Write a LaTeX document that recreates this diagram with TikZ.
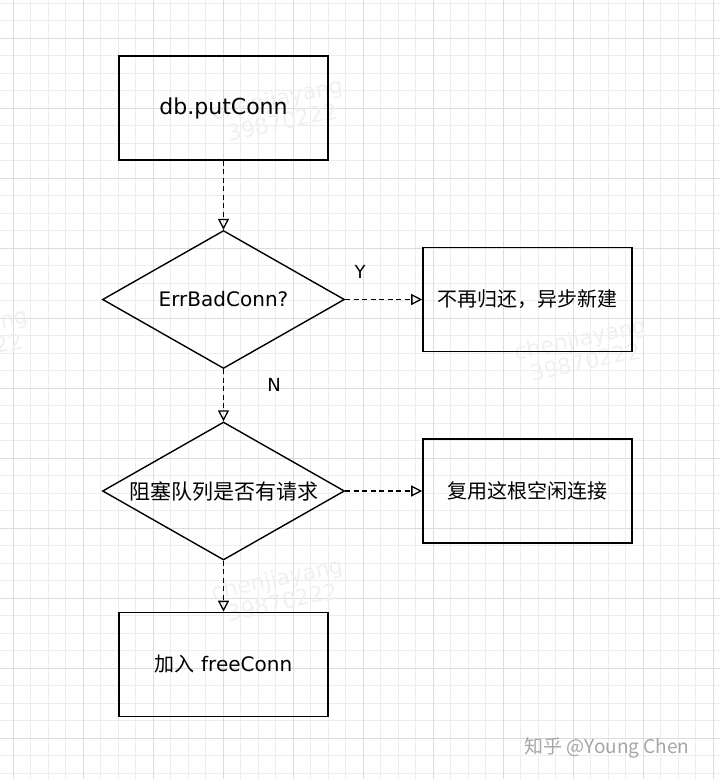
\documentclass[tikz,border=0pt]{standalone}
\usepackage{fontspec}
\setmainfont{DejaVu Sans}
\newfontfamily\cjk{Noto Sans CJK SC}
\usetikzlibrary{arrows.meta,shapes.geometric}
\definecolor{gridminor}{HTML}{EDEDED}
\definecolor{gridmajor}{HTML}{DCDCDC}
\definecolor{wmgray}{HTML}{F0F0F0}
\definecolor{zhgray}{HTML}{A6A6A6}

\begin{document}
\begin{tikzpicture}[x=1pt, y=-1pt,
	proc/.style={draw, line width=1.6pt, fill=none, minimum width=209pt, minimum height=104pt, inner sep=0pt, font=\fontsize{20}{24}\selectfont},
	test/.style={diamond, draw, line width=1.4pt, aspect=1.75, inner sep=0pt, minimum width=242pt, minimum height=138pt, font=\fontsize{20}{24}\selectfont},
	conn/.style={line width=1.3pt, dash pattern=on 5pt off 3.5pt, -{Triangle[open, length=11pt, width=11pt]}},
	branch/.style={font=\fontsize{18}{20}\selectfont},
	wmark/.style={text=wmgray, rotate=12, align=center, font=\fontsize{22}{24}\selectfont}]
	  \useasboundingbox (0,0) rectangle (720,779);
	  \clip (0,0) rectangle (720,779);
	  \fill[white] (0,0) rectangle (720,779);
	  \foreach \k in {0,...,42}
	    \draw[gridminor, line width=0.8pt] (-4.5+17.5*\k,0) -- (-4.5+17.5*\k,779);
	  \foreach \k in {0,...,44}
	    \draw[gridminor, line width=0.8pt] (0,3+17.5*\k) -- (720,3+17.5*\k);
	  \foreach \k in {0,...,10}
	    \draw[gridmajor, line width=0.9pt] (13+70*\k,0) -- (13+70*\k,779);
	  \foreach \k in {0,...,10}
	    \draw[gridmajor, line width=0.9pt] (0,38+70*\k) -- (720,38+70*\k);
	  \node[wmark] (wm1) at (280,110) {chenjiayang\\39870222};
	  \node[wmark] (wm2) at (583,350) {chenjiayang\\39870222};
	  \node[wmark] (wm3) at (280,590) {chenjiayang\\39870222};
	  \node[wmark] (wm4) at (-35,340) {chenjiayang\\39870222};
	  \node[proc, font=\fontsize{22}{26}\selectfont] (put) at (223.5,108) {db.putConn};
	  \node[test] (bad) at (223.5,299.5) {ErrBadConn?};
	  \node[proc, font=\fontsize{20}{24}\selectfont\cjk] (renew) at (527.5,299.5) {不再归还，异步新建};
	  \node[test, font=\fontsize{21}{24}\selectfont\cjk] (wait) at (223.5,491) {阻塞队列是否有请求};
	  \node[proc, font=\fontsize{20}{24}\selectfont\cjk] (reuse) at (527.5,491) {复用这根空闲连接};
	  \node[proc] (free) at (223.5,664.5) {{\cjk 加入} freeConn};
	  \node[branch] (yes) at (360,272) {Y};
	  \node[branch] (no) at (274,385) {N};
	  \draw[conn] (put) -- (bad);
	  \draw[conn] (bad) -- (renew);
	  \draw[conn] (bad) -- (wait);
	  \draw[conn] (wait) -- (reuse);
	  \draw[conn] (wait) -- (free);
	  \node[text=zhgray, font=\fontsize{19}{22}\selectfont\cjk] (sign) at (607,748) {知乎 @Young Chen};
	\end{tikzpicture}
\end{document}
